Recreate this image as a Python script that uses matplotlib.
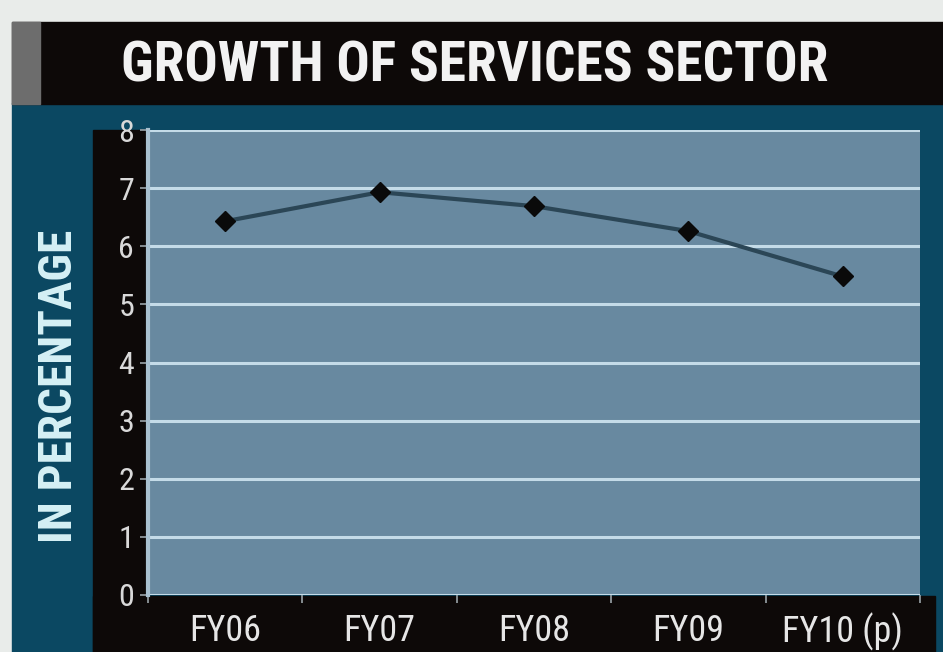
import matplotlib
matplotlib.use("Agg")
import matplotlib.pyplot as plt
from matplotlib.patches import Rectangle

# data
years = ["FY06", "FY07", "FY08", "FY09", "FY10 (p)"]
growth = [6.43, 6.93, 6.69, 6.26, 5.48]
yticks = [0, 1, 2, 3, 4, 5, 6, 7, 8]

narrow = ["Roboto Condensed", "Liberation Sans Narrow", "DejaVu Sans"]

W, H = 943, 652
fig = plt.figure(figsize=(W / 100, H / 100), dpi=100)
fig.patch.set_facecolor("#e9ecea")


def box(x0, y0, x1, y1, color):
    # rectangle given in pixel coords (origin at top left)
    fig.patches.append(Rectangle((x0 / W, 1 - y1 / H), (x1 - x0) / W, (y1 - y0) / H,
                                 transform=fig.transFigure, color=color, zorder=-5))


box(12, 103, W, H, "#0b4862")      # teal frame
box(12, 22, W, 104, "#0d0908")     # title bar
box(12, 22, 40, 104, "#6d6d6d")    # grey block on the left of title
box(93, 130, 148, H, "#0d0908")    # black band behind y labels
box(93, 596, 935, H, "#0d0908")    # black band behind x labels

fig.text(475 / W, 1 - 67 / H, "GROWTH OF SERVICES SECTOR", ha="center", va="center",
         color="#f2f2f2", fontsize=40, fontweight="bold", family=narrow)
fig.text(59 / W, 1 - 386 / H, "IN PERCENTAGE", ha="center", va="center", rotation=90,
         color="#d6f1f6", fontsize=34, fontweight="bold", family=narrow)

ax = fig.add_axes([148 / W, 1 - 595 / H, 772 / W, 465 / H])
ax.set_zorder(2)
ax.set_facecolor("#6889a0")
x = list(range(len(years)))
ax.plot(x, growth, color="#2b4656", lw=3, marker="D", markersize=10,
        markerfacecolor="#0a0a0a", markeredgecolor="#0a0a0a", zorder=3)

ax.set_xlim(-0.5, len(years) - 0.5)
ax.set_ylim(0, 8)
ax.set_yticks(yticks)
ax.set_yticklabels([str(v) for v in yticks], family=narrow, fontsize=23, color="#d9d9d9")
ax.grid(axis="y", color="#c4dbe8", lw=2.2)
ax.set_axisbelow(True)

ax.set_xticks(x)
ax.set_xticklabels(years, family=narrow, fontsize=26, color="#e6e6e6")
ax.set_xticks([i - 0.5 for i in range(len(years) + 1)], minor=True)
ax.tick_params(axis="x", which="major", length=0, pad=13)
ax.tick_params(axis="x", which="minor", length=6, color="#9aa3a8", width=1.2)
ax.tick_params(axis="y", length=6, color="#9aa3a8", width=1.2, pad=4)

for s in ax.spines.values():
    s.set_visible(False)
ax.spines["left"].set_visible(True)
ax.spines["left"].set_color("#a9c1d0")
ax.spines["left"].set_linewidth(3)

fig.savefig("out.png", dpi=100)
